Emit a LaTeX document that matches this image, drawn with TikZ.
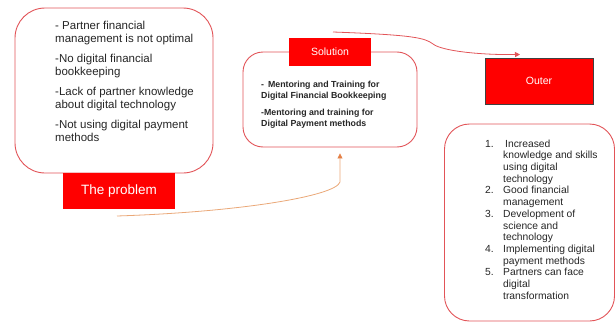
\documentclass[tikz,border=0pt]{standalone}
\usepackage{fontspec}
\setmainfont{Liberation Sans}
\usetikzlibrary{arrows.meta}
\definecolor{boxline}{RGB}{226,84,88}
\definecolor{tagred}{RGB}{255,0,0}
\definecolor{tanline}{RGB}{234,168,120}
\definecolor{tanhead}{RGB}{228,128,70}
\tikzset{
 roundbox/.style={draw=boxline,line width=0.9pt,fill=white,inner sep=0pt},
 redtag/.style={fill=tagred,text=white,inner sep=0pt},
 bodytext/.style={anchor=north west,inner sep=0pt,align=left,text=black!85},
}
\begin{document}
\begin{tikzpicture}[x=1pt,y=-1pt]
 \useasboundingbox (0,0) rectangle (616,324);
 % boxes
 \node[roundbox,rounded corners=30pt,minimum width=198pt,minimum height=165pt] (problem) at (114,90.5) {};
 \node[roundbox,rounded corners=20pt,minimum width=174pt,minimum height=95pt] (solution) at (330,99.5) {};
 \node[roundbox,rounded corners=25pt,minimum width=170pt,minimum height=197pt] (result) at (529.5,222.5) {};
 \node[redtag,font=\fontsize{13.5}{15}\selectfont,minimum width=112pt,minimum height=36pt] (problemtag) at (119,191) {The problem};
 \node[redtag,font=\fontsize{10.5}{12}\selectfont,minimum width=82pt,minimum height=28pt] (solutiontag) at (330,52) {Solution};
 \node[redtag,draw=black!75,line width=1pt,font=\fontsize{10.5}{12}\selectfont,minimum width=108pt,minimum height=46pt] (outer) at (539,81) {Outer};
 % texts
 \node[bodytext,font=\fontsize{11.5}{13}\selectfont] (problemtext) at (55,20.5) {- Partner financial\\management is not optimal\\[7pt]-No digital financial\\bookkeeping\\[7pt]-Lack of partner knowledge\\about digital technology\\[7pt]-Not using digital payment\\methods};
 \node[bodytext,font=\fontsize{8.8}{11}\selectfont\bfseries] (solutiontext) at (261,80.5) {- \,Mentoring and Training for\\Digital Financial Bookkeeping\\[6pt]-Mentoring and training for\\Digital Payment methods};
 \node[bodytext,font=\fontsize{10.3}{11.7}\selectfont] (resulttext) at (485,139.5) {%
 \makebox[18pt][l]{1.}\hspace{2pt}Increased\\
 \hspace*{18pt}knowledge and skills\\
 \hspace*{18pt}using digital\\
 \hspace*{18pt}technology\\
 \makebox[18pt][l]{2.}Good financial\\
 \hspace*{18pt}management\\
 \makebox[18pt][l]{3.}Development of\\
 \hspace*{18pt}science and\\
 \hspace*{18pt}technology\\
 \makebox[18pt][l]{4.}Implementing digital\\
 \hspace*{18pt}payment methods\\
 \makebox[18pt][l]{5.}Partners can face\\
 \hspace*{18pt}digital\\
 \hspace*{18pt}transformation};
 % arrows
 \coordinate (solstart) at (333,32);
 \coordinate (probstart) at (117,216);
 \draw[boxline,line width=0.8pt,-{Triangle[length=5pt,width=5pt]}] (solstart) .. controls (415,35) and (425,38) .. (433,44) .. controls (442,51) and (480,55) .. ([xshift=-19pt,yshift=3pt]outer.north);
 \draw[tanline,line width=0.8pt,-{Triangle[length=5pt,width=5pt,color=tanhead]}] (probstart) .. controls (240,212) and (336,196) .. (340,182) -- ([xshift=10pt,yshift=-6pt]solution.south);
\end{tikzpicture}
\end{document}
